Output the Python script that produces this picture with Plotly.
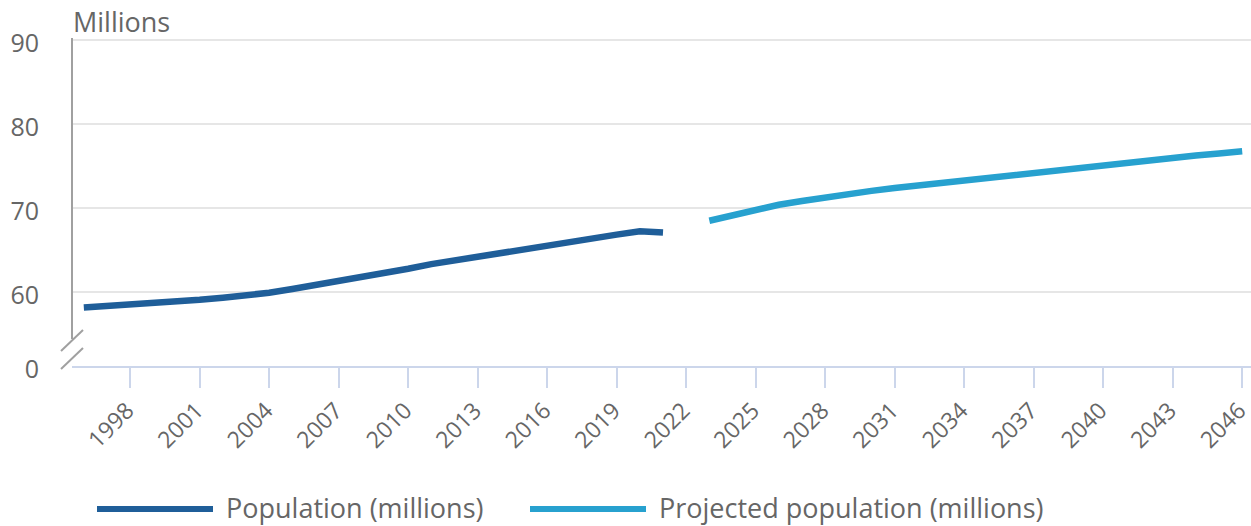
import plotly.graph_objects as go

# ---- data ----
hist_years = list(range(1996, 2022))
hist_values = [58.2, 58.35, 58.5, 58.7, 58.9, 59.1, 59.35, 59.6, 59.95, 60.4,
               60.85, 61.35, 61.85, 62.3, 62.8, 63.35, 63.8, 64.2, 64.65, 65.15,
               65.65, 66.05, 66.45, 66.85, 67.25, 67.1]
proj_years = list(range(2023, 2047))
proj_values = [68.5, 69.15, 69.8, 70.4, 70.85, 71.3, 71.7, 72.05, 72.4, 72.7,
               73.0, 73.3, 73.65, 74.0, 74.3, 74.6, 74.9, 75.2, 75.45, 75.75,
               76.0, 76.25, 76.5, 76.75]
hist_name = "Population (millions)"
proj_name = "Projected population (millions)"
x_tick_years = list(range(1998, 2047, 3))
y_tick_values = [60, 70, 80, 90]
y_axis_title = "Millions"

# ---- styling ----
W, H = 1251, 526
L, R, T, B = 72, 0, 38, 160
PW, PH = W - L - R, H - T - B
DARK = "#1f5e99"
LIGHT = "#27a1cf"
TXT = "#666666"
FONT = "Open Sans"
Y_MIN, Y_MAX = 51.24, 90.22


def px(x):
    return (x - L) / PW


def py(y):
    return (H - B - y) / PH


fig = go.Figure()
fig.add_trace(go.Scatter(x=hist_years, y=hist_values, mode="lines", name=hist_name,
                         line=dict(color=DARK, width=6.5), showlegend=False,
                         hoverinfo="x+y"))
fig.add_trace(go.Scatter(x=proj_years, y=proj_values, mode="lines", name=proj_name,
                         line=dict(color=LIGHT, width=6.5), showlegend=False,
                         hoverinfo="x+y"))

shapes = [
    # y axis line (broken near bottom)
    dict(type="line", xref="paper", yref="paper", x0=0, x1=0, y0=py(339), y1=1,
         line=dict(color="#a0a0a0", width=2)),
    # axis break slashes
    dict(type="line", xref="paper", yref="paper", x0=px(61), x1=px(83),
         y0=py(351), y1=py(330), line=dict(color="#a0a0a0", width=2)),
    dict(type="line", xref="paper", yref="paper", x0=px(61), x1=px(83),
         y0=py(369), y1=py(348), line=dict(color="#a0a0a0", width=2)),
    # legend symbols
    dict(type="line", xref="paper", yref="paper", x0=px(97), x1=px(213),
         y0=py(509), y1=py(509), line=dict(color=DARK, width=6)),
    dict(type="line", xref="paper", yref="paper", x0=px(530), x1=px(646),
         y0=py(509), y1=py(509), line=dict(color=LIGHT, width=6)),
]

annotations = [
    dict(text=y_axis_title, xref="paper", yref="paper", x=px(71), y=py(21),
         xanchor="left", yanchor="middle", showarrow=False,
         font=dict(family=FONT, size=27, color=TXT)),
    dict(text=hist_name, xref="paper", yref="paper", x=px(224), y=py(507.5),
         xanchor="left", yanchor="middle", showarrow=False,
         font=dict(family=FONT, size=27, color=TXT)),
    dict(text=proj_name, xref="paper", yref="paper", x=px(657), y=py(507.5),
         xanchor="left", yanchor="middle", showarrow=False,
         font=dict(family=FONT, size=27, color=TXT)),
]

fig.update_layout(
    width=W, height=H,
    margin=dict(l=L, r=R, t=T, b=B, pad=0),
    paper_bgcolor="white", plot_bgcolor="white",
    font=dict(family=FONT, color=TXT),
    showlegend=False,
    shapes=shapes,
    annotations=annotations,
    xaxis=dict(
        range=[1995.49, 2046.38],
        tickmode="array", tickvals=x_tick_years,
        ticktext=[str(v) for v in x_tick_years],
        tickangle=-45,
        ticks="outside", ticklen=20, tickwidth=2, tickcolor="#ccd6eb",
        showline=True, linecolor="#ccd6eb", linewidth=2,
        showgrid=False, zeroline=False,
        tickfont=dict(family=FONT, size=23, color=TXT),
        ticklabeloverflow="allow", ticklabelshift=-3,
        automargin=False, fixedrange=True,
    ),
    yaxis=dict(
        range=[Y_MIN, Y_MAX],
        tickmode="array", tickvals=[Y_MIN] + y_tick_values,
        ticktext=["0"] + [str(v) for v in y_tick_values],
        showline=False, zeroline=False,
        showgrid=True, gridcolor="#e6e6e6", gridwidth=2,
        ticks="", ticklabelstandoff=32, ticklabelshift=3,
        tickfont=dict(family=FONT, size=25, color=TXT),
        automargin=False, fixedrange=True,
    ),
)

fig.write_html("out.html", config={"displayModeBar": False},
               post_script="document.body.style.margin='0';document.body.style.overflow='hidden';")
